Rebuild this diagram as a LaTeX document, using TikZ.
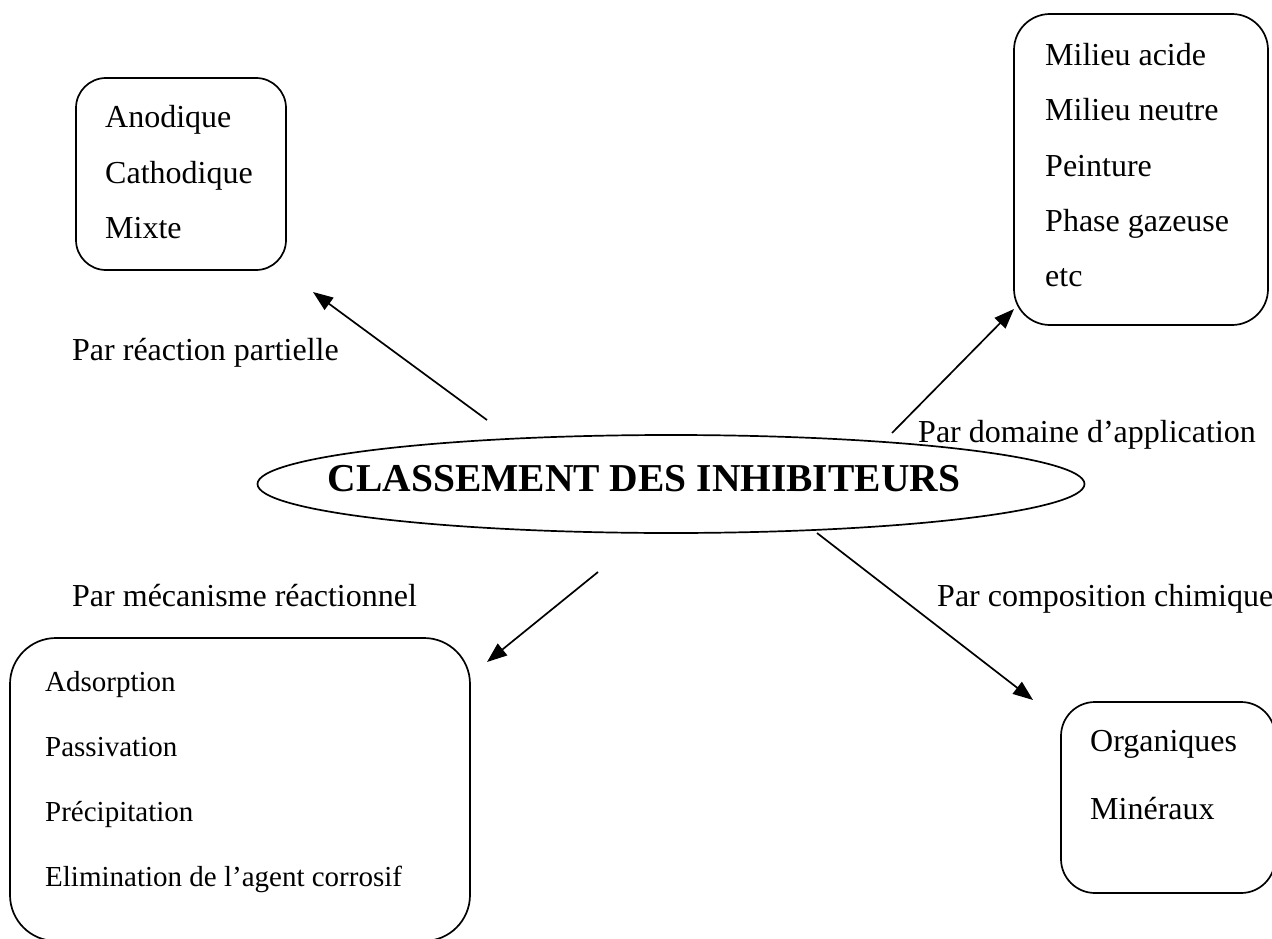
\documentclass[tikz,border=0pt]{standalone}
\usepackage{fontspec}
\setmainfont{Liberation Serif}
\usetikzlibrary{arrows.meta,shapes.geometric}
\begin{document}
\begin{tikzpicture}[x=1pt,y=-1pt,
  box/.style={draw, line width=1.7pt, rounded corners=#1, inner sep=0pt},
  lbl/.style={anchor=base west, inner sep=0pt, font=\fontsize{32}{38}\selectfont},
  sml/.style={anchor=base west, inner sep=0pt, font=\fontsize{29}{34}\selectfont},
  arr/.style={line width=1.7pt, -{Triangle[length=20pt,width=15pt]}}
]
\clip (0,0) rectangle (1272,939);
\path[use as bounding box] (0,0) rectangle (1272,939);

% central ellipse
\node[ellipse, draw, line width=1.7pt, minimum width=827pt, minimum height=98pt, inner sep=0pt] (cls) at (671,484) {};
\node[anchor=base, inner sep=0pt, font=\fontsize{39.5}{44}\selectfont\bfseries] (title) at (644,491) {CLASSEMENT DES INHIBITEURS};

% boxes
\node[box=30pt, minimum width=210pt, minimum height=192pt] (b1) at (181,174) {};
\node[box=36pt, minimum width=254pt, minimum height=311pt] (b2) at (1141,169.5) {};
\node[box=46pt, minimum width=460pt, minimum height=303pt] (b3) at (240,789.5) {};
\node[box=34pt, minimum width=214pt, minimum height=191pt] (b4) at (1168,797.5) {};

% box texts
\node[lbl] (t11) at (105,128) {Anodique};
\node[lbl] (t12) at (105,183) {Cathodique};
\node[lbl] (t13) at (105,238) {Mixte};

\node[lbl] (t21) at (1045,66) {Milieu acide};
\node[lbl] (t22) at (1045,121) {Milieu neutre};
\node[lbl] (t23) at (1045,176) {Peinture};
\node[lbl] (t24) at (1045,231) {Phase gazeuse};
\node[lbl] (t25) at (1045,286) {etc};

\node[sml] (t31) at (45,691) {Adsorption};
\node[sml] (t32) at (45,756) {Passivation};
\node[sml] (t33) at (45,821) {Précipitation};
\node[sml] (t34) at (45,886) {Elimination de l’agent corrosif};

\node[lbl] (t41) at (1090,751) {Organiques};
\node[lbl] (t42) at (1090,819) {Minéraux};

% branch labels
\node[lbl] (l1) at (72,360) {Par réaction partielle};
\node[lbl] (l2) at (918,442) {Par domaine d’application};
\node[lbl] (l3) at (72,606) {Par mécanisme réactionnel};
\node[lbl] (l4) at (937,606) {Par composition chimique};

% arrow end points
\coordinate (a1s) at (487,420); \coordinate (a1e) at (313,292);
\coordinate (a2s) at (892,433); \coordinate (a2e) at (1014,309);
\coordinate (a3s) at (598,572); \coordinate (a3e) at (487,662);
\coordinate (a4s) at (817,533); \coordinate (a4e) at (1033,700);

\draw[arr] (a1s) -- (a1e);
\draw[arr] (a2s) -- (a2e);
\draw[arr] (a3s) -- (a3e);
\draw[arr] (a4s) -- (a4e);
\end{tikzpicture}
\end{document}
